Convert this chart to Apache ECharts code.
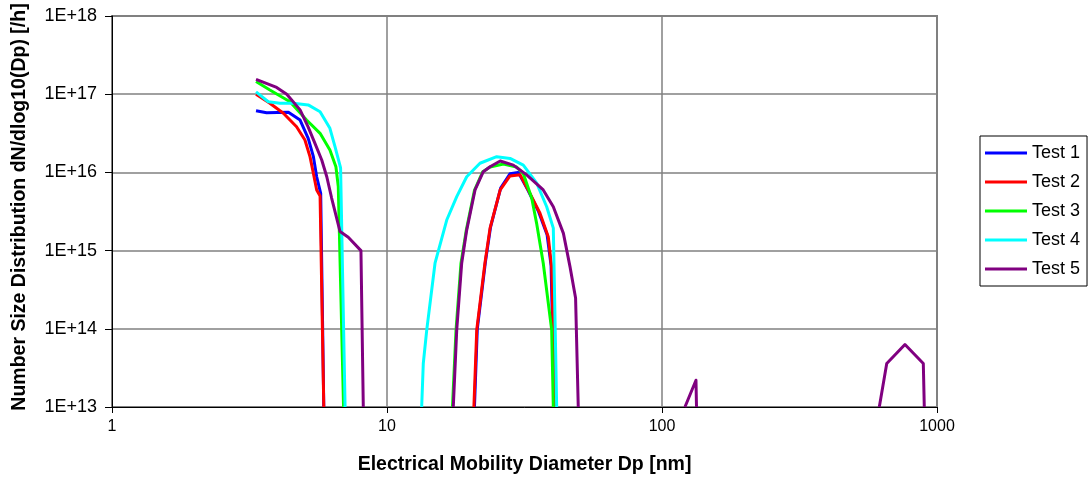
<!DOCTYPE html>
<html>
<head>
<meta charset="utf-8">
<script src="https://cdn.jsdelivr.net/npm/echarts@6/dist/echarts.min.js"></script>
<style>
  html, body { margin: 0; padding: 0; background: #ffffff; }
  #chart { width: 1090px; height: 480px; }
</style>
</head>
<body>
<div id="chart"></div>
<script>
// Particle size distributions, diameters in nm, dN/dlog10(Dp) per hour.
// null marks a break between measured modes.
const seriesNames = ['Test 1', 'Test 2', 'Test 3', 'Test 4', 'Test 5'];
const xTickLabels = ['1', '10', '100', '1000'];
const yTickLabels = ['1E+13', '1E+14', '1E+15', '1E+16', '1E+17', '1E+18'];

const test1Dp = [3.34, 3.65, 4.38, 4.83, 5.17, 5.40, 5.55, 5.74, 5.89, 10,
                 20.8, 21.3, 22.8, 23.8, 25.9, 28.0, 30.0, 32.5, 35.5, 38.2, 39.5, 40.6];
const test1N  = [6.15e16, 5.8e16, 5.86e16, 4.67e16, 2.73e16, 1.59e16, 8.8e15, 5.4e15, 1e13, null,
                 1e13, 1e14, 7.2e14, 2.0e15, 6.3e15, 9.6e15, 1.0e16, 6.0e15, 3.2e15, 1.6e15, 6.5e14, 1e13];

const test2Dp = [3.34, 3.75, 4.20, 4.69, 5.03, 5.25, 5.40, 5.55, 5.71, 5.89, 10,
                 20.7, 21.2, 22.7, 23.7, 25.8, 28.0, 30.5, 33.1, 36.0, 38.6, 39.7, 40.8];
const test2N  = [1.0e17, 7.65e16, 5.7e16, 3.83e16, 2.6e16, 1.58e16, 9.7e15, 5.96e15, 5.0e15, 1e13, null,
                 1e13, 9.7e13, 6.9e14, 1.94e15, 5.96e15, 9.0e15, 9.3e15, 5.4e15, 3.0e15, 1.49e15, 6.0e14, 1e13];

const test3Dp = [3.34, 3.75, 4.44, 5.10, 5.71, 6.20, 6.52, 6.65, 6.95, 10,
                 17.3, 17.82, 18.58, 19.41, 20.8, 22.3, 23.7, 26.5, 29.6, 31.3, 33.6, 35.0, 37.0, 39.7, 40.25];
const test3N  = [1.45e17, 1.13e17, 8.0e16, 4.68e16, 3.16e16, 1.93e16, 1.18e16, 6.6e15, 1e13, null,
                 1e13, 9.5e13, 6.9e14, 1.8e15, 5.9e15, 1.02e16, 1.17e16, 1.28e16, 1.17e16, 9.7e15, 4.67e15, 2.23e15, 6.9e14, 9.7e13, 1e13];

const test4Dp = [3.34, 3.70, 4.08, 4.56, 5.17, 5.71, 6.20, 6.47, 6.78, 7.04, 10,
                 13.37, 13.55, 13.95, 14.95, 16.49, 17.93, 19.49, 21.78, 25.06, 28.02, 31.31, 35.03, 38.08, 40.25, 41.4];
const test4N  = [1.07e17, 8.0e16, 7.65e16, 7.65e16, 7.3e16, 5.97e16, 3.66e16, 2.13e16, 1.14e16, 1e13, null,
                 1e13, 3.6e13, 9.7e13, 6.9e14, 2.46e15, 4.9e15, 8.8e15, 1.31e16, 1.59e16, 1.51e16, 1.24e16, 7.3e15, 3.64e15, 1.94e15, 1e13];

const test5Dp = [3.34, 3.97, 4.32, 4.83, 5.17, 5.47, 5.79, 6.04, 6.29, 6.75, 7.23, 8.04, 8.20, 10,
                 17.42, 17.93, 18.69, 19.49, 20.9, 22.4, 23.7, 25.8, 28.8, 32.2, 37.0, 40.25, 43.8, 46.3, 48.5, 49.6, 80,
                 121.2, 132.9, 133.5, 300,
                 616.9, 656.5, 764.7, 891.7, 899];
const test5N  = [1.55e17, 1.22e17, 1.0e17, 6.3e16, 3.8e16, 2.35e16, 1.44e16, 8.8e15, 4.7e15, 1.75e15, 1.48e15, 1.0e15, 1e13, null,
                 1e13, 9.7e13, 6.9e14, 1.83e15, 5.96e15, 1.02e16, 1.18e16, 1.4e16, 1.24e16, 9.3e15, 5.96e15, 3.64e15, 1.66e15, 6.2e14, 2.48e14, 1e13, null,
                 1e13, 2.2e13, 1e13, null,
                 1e13, 3.6e13, 6.3e13, 3.6e13, 1e13];

const seriesColors = ['#0000ff', '#ff0000', '#00ff00', '#00ffff', '#800080'];
const diameters = [test1Dp, test2Dp, test3Dp, test4Dp, test5Dp];
const counts = [test1N, test2N, test3N, test4N, test5N];

function toPairs(dp, n) {
  return dp.map((d, i) => (n[i] == null ? [d, '-'] : [d, n[i]]));
}

const font = 'Liberation Sans, Arial, sans-serif';
const chart = echarts.init(document.getElementById('chart'), null, { renderer: 'canvas' });

chart.setOption({
  animation: false,
  backgroundColor: '#ffffff',
  grid: {
    left: 112, top: 16, right: 153, bottom: 73,
    show: true, borderColor: '#808080', borderWidth: 2, backgroundColor: 'transparent'
  },
  legend: {
    orient: 'vertical',
    left: 980, top: 136,
    icon: 'rect', itemWidth: 42, itemHeight: 3, itemGap: 11,
    padding: [8, 7, 8, 5],
    borderColor: '#000', borderWidth: 1,
    textStyle: { fontFamily: font, fontSize: 18, color: '#000' },
    data: seriesNames
  },
  xAxis: {
    type: 'log', logBase: 10, min: 1, max: 1000,
    name: 'Electrical Mobility Diameter Dp [nm]',
    nameLocation: 'middle', nameGap: 48,
    nameTextStyle: { fontFamily: font, fontSize: 19.5, fontWeight: 'bold', color: '#000' },
    axisLine: { lineStyle: { color: '#000', width: 1 } },
    axisTick: { show: true, inside: false, length: 6, lineStyle: { color: '#000' } },
    axisLabel: {
      fontFamily: font, fontSize: 16, color: '#000', margin: 12,
      formatter: v => xTickLabels[Math.round(Math.log10(v))]
    },
    splitLine: { show: true, lineStyle: { color: '#808080', width: 1.5 } },
    minorTick: { show: false }
  },
  yAxis: {
    type: 'log', logBase: 10, min: 1e13, max: 1e18,
    name: 'Number Size Distribution dN/dlog10(Dp) [/h]',
    nameLocation: 'middle', nameGap: 82, nameRotate: 90,
    nameTextStyle: {
      fontFamily: font, fontSize: 19.5, fontWeight: 'bold', color: '#000',
      padding: [0, 0, 0, 9]
    },
    axisLine: { show: true, lineStyle: { color: '#000', width: 1 } },
    axisTick: { show: true, inside: false, length: 7, lineStyle: { color: '#000' } },
    axisLabel: {
      fontFamily: font, fontSize: 18, color: '#000', margin: 15,
      formatter: v => yTickLabels[Math.round(Math.log10(v)) - 13]
    },
    splitLine: { show: true, lineStyle: { color: '#808080', width: 1.5 } }
  },
  series: seriesNames.map((name, i) => ({
    name: name,
    type: 'line',
    data: toPairs(diameters[i], counts[i]),
    showSymbol: false,
    symbol: 'none',
    clip: true,
    connectNulls: false,
    lineStyle: { color: seriesColors[i], width: 3, join: 'round' },
    itemStyle: { color: seriesColors[i] },
    z: 2 + i
  }))
});
</script>
</body>
</html>
